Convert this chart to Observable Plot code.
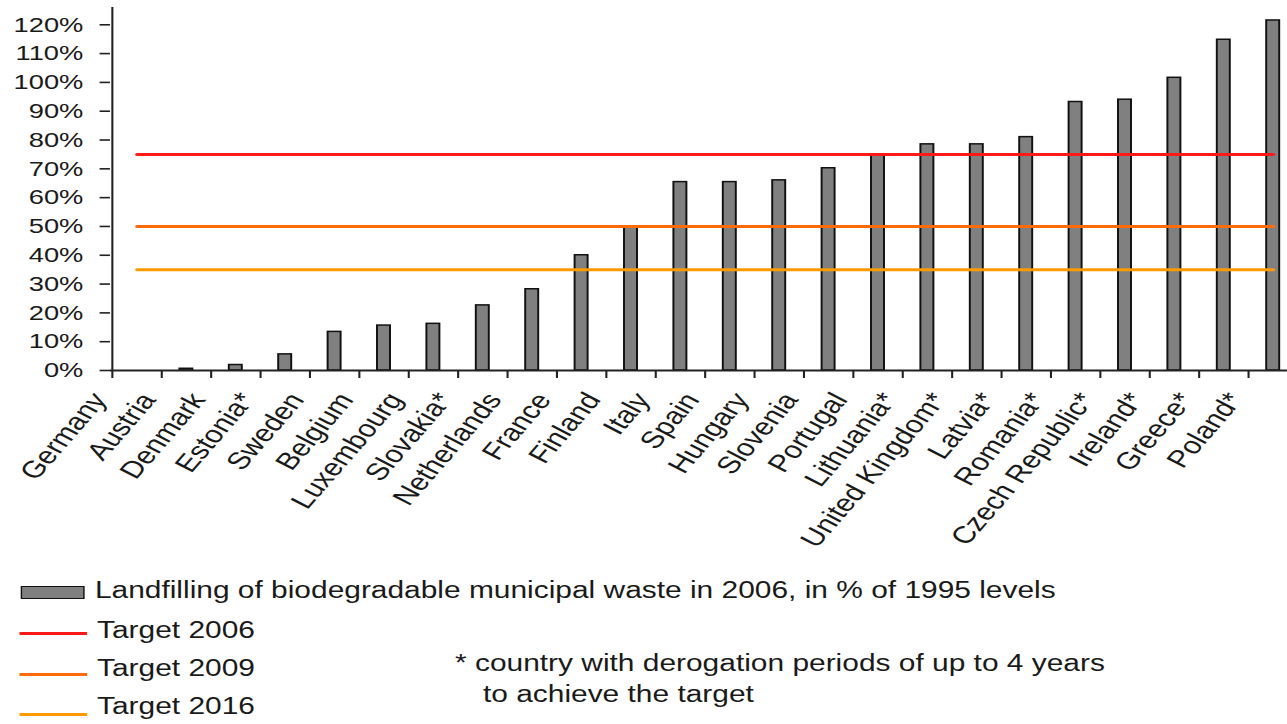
<!DOCTYPE html>
<html>
<head>
<meta charset="utf-8">
<script src="https://cdn.jsdelivr.net/npm/d3@7"></script>
<script src="https://cdn.jsdelivr.net/npm/@observablehq/plot@0.6"></script>
<style>
  body { margin: 0; background: #fff; overflow: hidden; }
  #wrap { position: relative; width: 990px; height: 724px; transform: scaleX(1.3); transform-origin: 0 0;
          font-family: "Liberation Sans", Arial, sans-serif; color: #1a1a1a; }
  #wrap svg { position: absolute; left: 0; top: 0; }
  .lg { position: absolute; font-size: 23px; line-height: 26px; white-space: nowrap; }
  .sw { position: absolute; box-sizing: border-box; }
</style>
</head>
<body>
<div id="wrap"></div>
<script>
// ---- data ----
const countries = ["Germany", "Austria", "Denmark", "Estonia*", "Sweden", "Belgium", "Luxembourg", "Slovakia*",
  "Netherlands", "France", "Finland", "Italy", "Spain", "Hungary", "Slovenia", "Portugal", "Lithuania*",
  "United Kingdom*", "Latvia*", "Romania*", "Czech Republic*", "Ireland*", "Greece*", "Poland*"];
const values = [0, 0.6, 1.9, 5.6, 13.4, 15.6, 16.2, 22.6, 28.2, 40, 49.8, 65.4, 65.4, 66, 70.2, 75,
  78.5, 78.5, 81, 93.2, 94, 101.6, 114.8, 121.5];
const yTicks = [0, 10, 20, 30, 40, 50, 60, 70, 80, 90, 100, 110, 120];
const targetNames = ["Target 2006", "Target 2009", "Target 2016"];
const targetValues = [75, 50, 35];
const targetColors = ["#ff1a1a", "#ff6a0a", "#ff9a00"];
const barLabel = "Landfilling of biodegradable municipal waste in 2006, in % of 1995 levels";
const footnote = ["* country with derogation periods of up to 4 years", "to achieve the target"];

// ---- layout ----
const W = 990, H = 560, ML = 84.6, MR = -10, MT = 7, MB = 190;
const step = (W - ML - MR) / countries.length;
const rows = countries.map((c, i) => ({country: c, value: values[i]}));
const targets = targetValues.flatMap((v, k) => countries.map(c => ({country: c, value: v, name: targetNames[k]})));

const chart = Plot.plot({
  width: W, height: H,
  marginLeft: ML, marginRight: MR, marginTop: MT, marginBottom: MB,
  style: {fontFamily: "'Liberation Sans', Arial, sans-serif", fontSize: "22px", color: "#1a1a1a", background: "transparent", overflow: "visible"},
  x: {domain: countries, paddingInner: 0.725, paddingOuter: 0.3625, align: 0.5},
  y: {domain: [0, 126]},
  color: {domain: targetNames, range: targetColors},
  marks: [
    Plot.barY(rows.filter(d => d.value > 0), {x: "country", y: "value", fill: "#808080", stroke: "#111", strokeWidth: 1.5}),
    Plot.lineY(targets, {x: "country", y: "value", z: "name", stroke: "name", strokeWidth: 3}),
    Plot.ruleY([0], {stroke: "#222", strokeWidth: 2}),
    Plot.ruleX([countries[0]], {x: d => d, y1: 0, y2: 126, dx: -step / 2, stroke: "#222", strokeWidth: 1.6}),
    Plot.axisY({ticks: yTicks, tickFormat: d => d + "%", tickSize: 8, tickPadding: 13, fontSize: 21,
      stroke: "#222", strokeWidth: 1.6, label: null}),
    Plot.axisX({tickSize: 8, tickPadding: 0, tickRotate: -56, dx: -step / 2, stroke: "#222", strokeWidth: 1.6,
      fontSize: 22, label: null, text: null}),
    Plot.axisX({tickSize: 0, tickPadding: 25, tickRotate: -56, dx: -step / 2 - 10, fontSize: 24, label: null})
  ]
});

const wrap = document.getElementById("wrap");
wrap.appendChild(chart);

// ---- legend (HTML below the plot area) ----
function addDiv(cls, css, text) {
  const d = document.createElement("div");
  d.className = cls;
  d.style.cssText = css;
  if (text) d.textContent = text;
  wrap.appendChild(d);
}
addDiv("sw", "left:16px;top:586px;width:49px;height:13px;background:#808080;border:1.5px solid #111;");
addDiv("lg", "left:73px;top:577px;", barLabel);
const lineY = [633, 674, 714], textY = [630, 668, 706];
targetNames.forEach((n, k) => {
  addDiv("sw", `left:15.4px;top:${lineY[k] - 1.5}px;width:52px;height:3px;background:${targetColors[k]};`);
  addDiv("lg", `left:74.6px;top:${textY[k] - 13}px;`, n);
});
addDiv("lg", "left:350px;top:650px;", footnote[0]);
addDiv("lg", "left:371.5px;top:681px;", footnote[1]);
</script>
</body>
</html>
